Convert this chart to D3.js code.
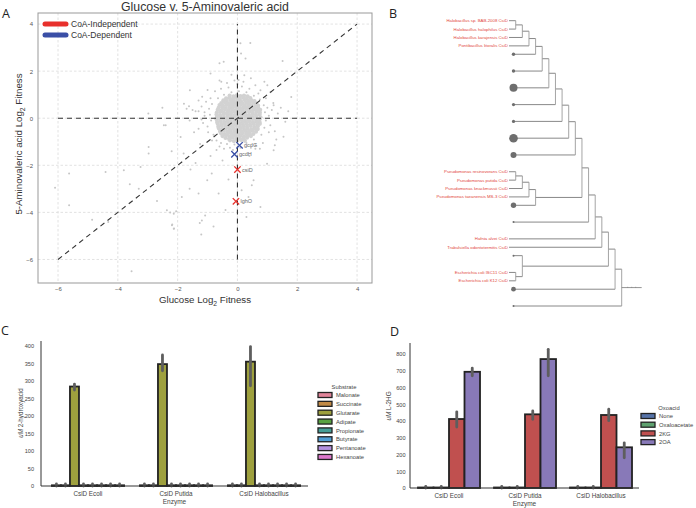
<!DOCTYPE html>
<html><head><meta charset="utf-8">
<script src="https://cdn.jsdelivr.net/npm/d3@7"></script>
<style>body{margin:0;background:#fff}svg{display:block;font-family:"Liberation Sans",Arial,sans-serif}</style>
</head><body><svg id="c" width="696" height="508"></svg>
<script>
// ---------------- DATA ----------------
// Panel A: fitness scatter (x = glucose log2 fitness, y = 5-aminovaleric acid log2 fitness)
const fitnessCore = [
[-0.26,0.96],[-0.13,0.93],[-0.02,0.97],[0.1,0.94],[0.22,0.96],[0.34,0.93],
[-0.38,0.84],[-0.27,0.87],[-0.15,0.83],[-0.03,0.86],[0.08,0.84],[0.2,0.87],[0.31,0.83],[0.43,0.86],
[-0.47,0.76],[-0.36,0.73],[-0.24,0.77],[-0.12,0.74],[0.0,0.76],[0.12,0.73],[0.24,0.77],[0.36,0.74],[0.47,0.76],[0.57,0.73],
[-0.54,0.64],[-0.42,0.67],[-0.31,0.63],[-0.19,0.66],[-0.07,0.64],[0.05,0.67],[0.17,0.63],[0.29,0.66],[0.41,0.64],[0.53,0.67],[0.63,0.63],
[-0.6,0.56],[-0.48,0.53],[-0.36,0.57],[-0.24,0.54],[-0.12,0.56],[0.0,0.53],[0.12,0.57],[0.24,0.54],[0.36,0.56],[0.48,0.53],[0.6,0.57],[0.69,0.54],
[-0.63,0.44],[-0.51,0.47],[-0.39,0.43],[-0.27,0.46],[-0.15,0.44],[-0.03,0.47],[0.09,0.43],[0.21,0.46],[0.33,0.44],[0.45,0.47],[0.57,0.43],[0.69,0.46],
[-0.66,0.36],[-0.54,0.33],[-0.42,0.37],[-0.3,0.34],[-0.18,0.36],[-0.06,0.33],[0.06,0.37],[0.18,0.34],[0.3,0.36],[0.42,0.33],[0.54,0.37],[0.66,0.34],[0.76,0.36],
[-0.69,0.24],[-0.57,0.27],[-0.45,0.23],[-0.33,0.26],[-0.21,0.24],[-0.09,0.27],[0.03,0.23],[0.15,0.26],[0.27,0.24],[0.39,0.27],[0.51,0.23],[0.63,0.26],[0.75,0.24],
[-0.7,0.16],[-0.58,0.13],[-0.46,0.17],[-0.34,0.14],[-0.22,0.16],[-0.1,0.13],[0.02,0.17],[0.14,0.14],[0.26,0.16],[0.38,0.13],[0.5,0.17],[0.62,0.14],[0.74,0.16],
[-0.69,0.04],[-0.57,0.07],[-0.45,0.03],[-0.33,0.06],[-0.21,0.04],[-0.09,0.07],[0.03,0.03],[0.15,0.06],[0.27,0.04],[0.39,0.07],[0.51,0.03],[0.63,0.06],[0.77,0.04],
[-0.7,-0.04],[-0.58,-0.07],[-0.46,-0.03],[-0.34,-0.06],[-0.22,-0.04],[-0.1,-0.07],[0.02,-0.03],[0.14,-0.06],[0.26,-0.04],[0.38,-0.07],[0.5,-0.03],[0.62,-0.06],[0.74,-0.04],
[-0.68,-0.16],[-0.56,-0.13],[-0.44,-0.17],[-0.32,-0.14],[-0.2,-0.16],[-0.08,-0.13],[0.04,-0.17],[0.16,-0.14],[0.28,-0.16],[0.4,-0.13],[0.52,-0.17],[0.64,-0.14],[0.74,-0.16],
[-0.66,-0.24],[-0.54,-0.27],[-0.42,-0.23],[-0.3,-0.26],[-0.18,-0.24],[-0.06,-0.27],[0.06,-0.23],[0.18,-0.26],[0.3,-0.24],[0.42,-0.27],[0.54,-0.23],[0.66,-0.26],[0.75,-0.24],
[-0.64,-0.36],[-0.52,-0.33],[-0.4,-0.37],[-0.28,-0.34],[-0.16,-0.36],[-0.04,-0.33],[0.08,-0.37],[0.2,-0.34],[0.32,-0.36],[0.44,-0.33],[0.56,-0.37],[0.68,-0.34],
[-0.62,-0.44],[-0.5,-0.47],[-0.38,-0.43],[-0.26,-0.46],[-0.14,-0.44],[-0.02,-0.47],[0.1,-0.43],[0.22,-0.46],[0.34,-0.44],[0.46,-0.47],[0.58,-0.43],[0.68,-0.46],
[-0.58,-0.56],[-0.46,-0.53],[-0.34,-0.57],[-0.22,-0.54],[-0.1,-0.56],[0.02,-0.53],[0.14,-0.57],[0.26,-0.54],[0.38,-0.56],[0.5,-0.53],[0.62,-0.57],
[-0.55,-0.64],[-0.43,-0.67],[-0.31,-0.63],[-0.19,-0.66],[-0.07,-0.64],[0.05,-0.67],[0.17,-0.63],[0.29,-0.66],[0.41,-0.64],[0.53,-0.67],
[-0.5,-0.76],[-0.38,-0.73],[-0.26,-0.77],[-0.14,-0.74],[-0.02,-0.76],[0.1,-0.73],[0.22,-0.77],[0.34,-0.74],[0.45,-0.76],
[-0.4,-0.84],[-0.28,-0.87],[-0.16,-0.83],[-0.04,-0.86],[0.08,-0.84],[0.2,-0.87],[0.32,-0.83],
[-0.25,-0.94],[-0.12,-0.97],[0.0,-0.95],[0.13,-0.93],[0.25,-0.96]
];
const fitnessSpread = [
[-0.95,0.4],[-0.88,-0.1],[-0.92,0.15],[-0.85,0.6],[-1.0,-0.35],[-0.8,-0.7],[-0.7,-0.95],[-0.55,-1.05],[-0.35,-1.1],[-0.1,-1.12],
[0.3,-1.05],[0.55,-0.9],[0.8,-0.7],[0.9,-0.4],[0.95,-0.1],[0.92,0.25],[0.88,0.55],[0.75,0.8],[0.55,0.95],[0.3,1.1],
[0.05,1.15],[-0.2,1.1],[-0.45,1.0],[-0.65,0.85],[-1.1,0.1],[-1.15,-0.2],[1.05,0.1],[1.1,-0.3],[1.0,0.45],[-0.3,1.3],
[0.15,1.35],[0.4,1.25],[-0.6,-1.2],[0.6,-1.15],[-1.2,0.5],[1.2,0.65],[-1.3,-0.45],[1.25,-0.55],[0.0,1.45],[-0.45,-1.3],
[0.85,-1.05],[-0.9,0.85],[-0.1,1.6],[0.2,1.55],[-1.4,0.3],[1.35,0.2],[-0.75,1.15],[-0.15,-1.35],[1.6,-0.15],[-1.6,-0.1],
[-1.05,0.7],[-0.98,-0.6],[-1.2,-0.05],[1.15,0.35],[1.05,-0.6],[0.7,1.05],[-0.55,1.25],[0.45,-1.25],[-0.25,-1.25],[0.1,-1.25],
[-0.85,-0.95],[0.95,0.85],[-1.3,0.75],[1.3,-0.9],[-0.35,1.5],[0.6,1.4],[-1.45,-0.6],[1.45,0.45],[-0.7,-1.35],[0.75,-1.3],
[-1.0,1.2],[1.1,1.1],[-1.7,0.4],[1.7,0.3],[-0.2,1.85],[0.45,1.7],[-1.25,-1.1],[1.25,-1.15],[-0.6,1.6],[0.9,1.55]
];
const fitnessOutliers = [
[0.12,2.75],[0.43,3.2],[0.1,3.18],[-0.46,2.4],[-0.6,2.33],[1.51,2.43],[0.27,2.54],[-1.59,1.19],[-2.51,0.45],[-2.4,-0.3],
[-1.79,0.62],[-1.5,0.35],[-1.3,0.3],[-1.1,0.25],[-0.54,1.55],[0.04,1.62],[0.23,1.83],[0.77,1.19],[1.21,0.55],[-6.1,-2.95],
[-5.63,-2.35],[-5.63,-3.7],[-4.41,-2.28],[-4.86,-4.31],[-4.32,-4.41],[-3.54,-6.5],[-2.97,-1.22],[-2.97,-1.5],[-3.8,-2.21],[-3.24,-2.07],
[-2.69,-3.52],[-2.36,-3.91],[-2.13,-4.06],[-2.19,-4.55],[-2.13,-4.7],[-2.25,-4.0],[-2.05,-3.95],[-1.86,-3.35],[-1.3,-3.2],[-1.19,-4.34],
[-1.08,-4.13],[-0.86,-2.35],[-0.63,-3.2],[0.14,-3.06],[0.48,-2.85],[0.37,-3.35],[-2.98,0.2],[-2.46,-0.3],[-1.57,-2.18],[-1.62,0.51],
[-1.18,0.91],[-1.01,-2.64],[1.54,-0.79],[1.21,-1.36],[0.54,-2.64],[0.99,-1.93],[0.77,-3.77],[-2.18,-4.51],[-2.12,-4.69],[-1.26,-4.45],
[-1.21,-4.94],[-1.8,-1.5],[-1.4,-1.9],[-0.9,-1.6],[-0.5,-1.8],[0.4,-1.6],[0.6,-1.3],[-0.3,-2.6],[-1.9,-0.8],[-2.2,-1.4],
[-3.3,-3.0],[-1.6,-3.0],[1.8,0.9],[1.0,1.4],[-0.9,1.9],[-3.6,-2.8],[-0.8,-4.6],[0.3,-4.2],[-0.4,-3.9]
];
const hitNames = ["gcdG","gcdH","csiD","lghO"];
const hitX = [0.07,-0.1,0.0,-0.05];
const hitY = [-1.15,-1.53,-2.18,-3.53];
const hitClass = ["CoA-Dependent","CoA-Dependent","CoA-Independent","CoA-Independent"];
const classNames = ["CoA-Independent","CoA-Dependent"];
const classColors = ["#e8302c","#3a4fa6"];
const ticksA = [-6,-4,-2,0,2,4];
const refLines = [[[-6,-6],[4,4]],[[-6,0],[4,0]],[[0,-6],[0,4]]];

// Panel B: tree (strings = labelled leaves, numbers = unlabelled leaf dot radius)
const haloClade = [[["Halobacillus sp. BAB-2008 CsiD","Halobacillus halophilus CsiD"],"Halobacillus karajensis CsiD"],"Pontibacillus litoralis CsiD"];
const pseudoClade = [[[["Pseudomonas resinovorans CsiD","Pseudomonas putida CsiD"],"Pseudomonas knackmussii CsiD"],"Pseudomonas taeanensis MS-3 CsiD"],2.7];
const ecoliClade = [1.0,["Escherichia coli ISC11 CsiD","Escherichia coli K12 CsiD"]];
const backbone = [1.7,1.7,4.0,1.6,1.6,4.3,3.0,pseudoClade,1.0,"Hafnia alvei CsiD","Trabulsiella odontotermitis CsiD",ecoliClade,2.4,1.0];

// Panel C
const enzymes = ["CsiD Ecoli","CsiD Putida","CsiD Halobacillus"];
const substrates = ["Malonate","Succinate","Glutarate","Adipate","Propionate","Butyrate","Pentanoate","Hexanoate"];
const substrateColors = ["#e08499","#c18a46","#9ea03e","#58a141","#459e97","#519fd6","#b391e0","#dd78cc"];
const cValues = [[2,2,2],[2,2,2],[284,348,355],[2,2,2],[2,2,2],[2,2,2],[2,2,2],[2,2,2]];
const cErrLo = [[0,0,0],[0,0,0],[274,329,286],[0,0,0],[0,0,0],[0,0,0],[0,0,0],[0,0,0]];
const cErrHi = [[6,6,6],[6,6,6],[291,374,398],[6,6,6],[6,6,6],[6,6,6],[6,6,6],[6,6,6]];
const cTicks = [0,50,100,150,200,250,300,350,400];

// Panel D
const oxoacids = ["None","Oxaloacetate","2KG","2OA"];
const oxoColors = ["#5673a8","#5fa16f","#c0504f","#8879b8"];
const dValues = [[3,3,3],[3,3,3],[412,440,436],[694,770,243]];
const dErrLo = [[0,0,0],[0,0,0],[364,410,402],[670,670,180]];
const dErrHi = [[10,10,10],[10,10,10],[455,460,471],[716,828,270]];
const dTicks = [0,100,200,300,400,500,600,700,800];

// ---------------- DRAW ----------------
const svg = d3.select("#c");
svg.append("rect").attr("width",696).attr("height",508).attr("fill","#fff");

function panelLetter(t,x,y){
  svg.append("text").attr("x",x).attr("y",y).attr("font-family","'Open Sans',sans-serif")
    .attr("font-size",12.5).attr("fill","#222").text(t);
}
panelLetter("A",2,18); panelLetter("B",389,18); panelLetter("C",1,335); panelLetter("D",390,336);

// ---- Panel A ----
const xA = d3.scaleLinear().domain([-6.67,4.5]).range([38,372]);
const yA = d3.scaleLinear().domain([-7,4.47]).range([283,13]);
const gA = svg.append("g");
gA.selectAll("line.gx").data(ticksA).join("line").attr("class","gx")
  .attr("x1",d=>xA(d)).attr("x2",d=>xA(d)).attr("y1",yA.range()[1]).attr("y2",yA.range()[0])
  .attr("stroke","#dadada").attr("stroke-width",0.8).attr("stroke-dasharray","2.5,2");
gA.selectAll("line.gy").data(ticksA).join("line").attr("class","gy")
  .attr("y1",d=>yA(d)).attr("y2",d=>yA(d)).attr("x1",xA.range()[0]).attr("x2",xA.range()[1])
  .attr("stroke","#dadada").attr("stroke-width",0.8).attr("stroke-dasharray","2.5,2");

gA.selectAll("circle.ps").data(fitnessSpread.concat(fitnessOutliers)).join("circle").attr("class","ps")
  .attr("cx",d=>xA(d[0])).attr("cy",d=>yA(d[1])).attr("r",1.0).attr("fill","#c6c6c6");
gA.selectAll("circle.pc").data(fitnessCore).join("circle").attr("class","pc")
  .attr("cx",d=>xA(d[0])).attr("cy",d=>yA(d[1])).attr("r",2.1).attr("fill","#d2d2d2");

const lineA = d3.line().x(d=>xA(d[0])).y(d=>yA(d[1]));
gA.selectAll("path.ref").data(refLines).join("path").attr("class","ref")
  .attr("d",lineA).attr("fill","none").attr("stroke","#333").attr("stroke-width",1.1).attr("stroke-dasharray","5,4");

gA.append("rect").attr("x",xA.range()[0]).attr("y",yA.range()[1])
  .attr("width",xA.range()[1]-xA.range()[0]).attr("height",yA.range()[0]-yA.range()[1])
  .attr("fill","none").attr("stroke","#999").attr("stroke-width",1);

const axA = gA.append("g").attr("transform",`translate(0,${yA.range()[0]})`)
  .call(d3.axisBottom(xA).tickValues(ticksA).tickSize(0).tickPadding(4));
const ayA = gA.append("g").attr("transform",`translate(${xA.range()[0]},0)`)
  .call(d3.axisLeft(yA).tickValues(ticksA).tickSize(0).tickPadding(5));
[axA,ayA].forEach(a=>{a.select(".domain").remove();
  a.selectAll("text").attr("font-size",6).attr("fill","#555").attr("font-family","'Liberation Sans',Arial,sans-serif");});

const hits = hitNames.map((n,i)=>({n,x:hitX[i],y:hitY[i],c:classColors[classNames.indexOf(hitClass[i])]}));
const hg = gA.selectAll("g.hit").data(hits).join("g").attr("class","hit")
  .attr("transform",d=>`translate(${xA(d.x)},${yA(d.y)})`);
hg.append("path").attr("d","M-3.2,-3.2L3.2,3.2M-3.2,3.2L3.2,-3.2").attr("stroke",d=>d.c).attr("stroke-width",1.3);
hg.append("text").attr("x",4.5).attr("y",2).attr("font-size",5.5).attr("fill","#666").text(d=>d.n);

const lg = gA.selectAll("g.lg").data(classNames).join("g").attr("class","lg")
  .attr("transform",(d,i)=>`translate(45,${24+i*11})`);
lg.append("line").attr("x1",0).attr("x2",21).attr("stroke",(d,i)=>classColors[i]).attr("stroke-width",5).attr("stroke-linecap","round");
lg.append("text").attr("x",26).attr("y",3).attr("font-size",8.5).attr("fill","#333").text(d=>d);

gA.append("text").attr("x",(xA.range()[0]+xA.range()[1])/2).attr("y",11).attr("text-anchor","middle")
  .attr("font-size",12.3).attr("fill","#333").text("Glucose v. 5-Aminovaleric acid");
const xt = gA.append("text").attr("x",205).attr("y",303).attr("text-anchor","middle").attr("font-size",9.7).attr("fill","#333");
xt.append("tspan").text("Glucose Log");
xt.append("tspan").attr("font-size",6.8).attr("dy",2.5).text("2");
xt.append("tspan").attr("dy",-2.5).text(" Fitness");
const yt = gA.append("text").attr("transform","translate(22,144) rotate(-90)").attr("text-anchor","middle").attr("font-size",9.7).attr("fill","#333");
yt.append("tspan").text("5-Aminovaleric acid Log");
yt.append("tspan").attr("font-size",6.8).attr("dy",2.5).text("2");
yt.append("tspan").attr("dy",-2.5).text(" Fitness");

// ---- Panel B ----
const treeData = backbone.reduce((acc,b)=>[acc,b], haloClade);
const root = d3.hierarchy(treeData, d=>Array.isArray(d)?d:null);
d3.cluster().size([1,1]).separation((a,b)=>typeof b.data==="string"?1:2)(root);
const leaves = root.leaves();
const yB = d3.scaleLinear().domain(d3.extent(leaves,d=>d.x)).range([20.7,306]);
const xB = d3.scaleLinear().domain([0,root.height]).range([509.1,621.7]);
const gB = svg.append("g");
const lineCol = "#7a7a7a";
const startX = d=> d.children ? xB(d.height) : (typeof d.data==="string" ? 509 : 513.5);
gB.selectAll("line.h").data(root.descendants().filter(d=>d.parent)).join("line").attr("class","h")
  .attr("x1",startX).attr("x2",d=>xB(d.parent.height)).attr("y1",d=>yB(d.x)).attr("y2",d=>yB(d.x))
  .attr("stroke",lineCol).attr("stroke-width",0.9);
gB.selectAll("line.v").data(root.descendants().filter(d=>d.children)).join("line").attr("class","v")
  .attr("x1",d=>xB(d.height)).attr("x2",d=>xB(d.height))
  .attr("y1",d=>yB(d.children[0].x)).attr("y2",d=>yB(d.children[d.children.length-1].x))
  .attr("stroke","#9a9a9a").attr("stroke-width",0.9);
gB.append("line").attr("x1",xB(root.height)).attr("x2",xB(root.height)+20).attr("y1",yB(root.x)).attr("y2",yB(root.x))
  .attr("stroke",lineCol).attr("stroke-width",0.8);
[6,10,14].forEach(o=>gB.append("line").attr("x1",xB(root.height)+o).attr("x2",xB(root.height)+o)
  .attr("y1",yB(root.x)-0.8).attr("y2",yB(root.x)+0.2).attr("stroke",lineCol).attr("stroke-width",0.6));
gB.selectAll("circle.dot").data(leaves.filter(d=>typeof d.data==="number")).join("circle").attr("class","dot")
  .attr("cx",513.5).attr("cy",d=>yB(d.x)).attr("r",d=>d.data).attr("fill","#6e6e6e");
gB.selectAll("text.lab").data(leaves.filter(d=>typeof d.data==="string")).join("text").attr("class","lab")
  .attr("x",507.8).attr("y",d=>yB(d.x)+1.5).attr("text-anchor","end").attr("font-size",4.3)
  .attr("fill","#e2453b").text(d=>d.data);

// ---- Bar panels ----
function barPanel(o){
  const g = svg.append("g");
  const y = d3.scaleLinear().domain([0,o.yMax]).range([o.y0,o.y1]);
  const xg = d3.scaleBand().domain(o.groups).range([o.x0,o.x1]).paddingInner(o.pad).paddingOuter(o.pad/2);
  const xs = d3.scaleBand().domain(o.series).range([0,xg.bandwidth()]);
  const recs = [];
  o.series.forEach((s,si)=>o.groups.forEach((gname,gi)=>recs.push({s,si,gname,v:o.values[si][gi],lo:o.lo[si][gi],hi:o.hi[si][gi]})));
  g.selectAll("rect.bar").data(recs).join("rect").attr("class","bar")
    .attr("x",d=>xg(d.gname)+xs(d.s)).attr("width",xs.bandwidth())
    .attr("y",d=>y(d.v)).attr("height",d=>y(0)-y(d.v))
    .attr("fill",d=>o.colors[d.si]).attr("stroke","#222").attr("stroke-width",1.8);
  g.selectAll("line.err").data(recs).join("line").attr("class","err")
    .attr("x1",d=>xg(d.gname)+xs(d.s)+xs.bandwidth()/2).attr("x2",d=>xg(d.gname)+xs(d.s)+xs.bandwidth()/2)
    .attr("y1",d=>y(d.lo)).attr("y2",d=>y(d.hi)).attr("stroke","#5e5e5e").attr("stroke-width",2.8).attr("stroke-linecap","round");
  g.append("line").attr("x1",o.ax).attr("x2",o.ax).attr("y1",o.y0).attr("y2",o.yTop).attr("stroke","#333").attr("stroke-width",1);
  g.append("line").attr("x1",o.ax).attr("x2",o.x1).attr("y1",o.y0).attr("y2",o.y0).attr("stroke","#333").attr("stroke-width",1);
  const ay = g.append("g").attr("transform",`translate(${o.ax},0)`).call(d3.axisLeft(y).tickValues(o.ticks).tickSize(0).tickPadding(o.tp));
  ay.select(".domain").remove();
  ay.selectAll("text").attr("font-size",5.6).attr("fill","#444").attr("font-family","'Liberation Sans',Arial,sans-serif");
  g.selectAll("text.xl").data(o.groups).join("text").attr("class","xl")
    .attr("x",d=>xg(d)+xg.bandwidth()/2).attr("y",o.y0+9.5).attr("text-anchor","middle").attr("font-size",6.3).attr("fill","#444").text(d=>d);
  g.append("text").attr("x",(o.ax+o.x1)/2).attr("y",o.y0+17.5).attr("text-anchor","middle").attr("font-size",6.5).attr("fill","#444").text("Enzyme");
  const yl = g.append("text").attr("transform",`translate(${o.ylx},${o.yly}) rotate(-90)`).attr("text-anchor","middle").attr("font-size",6.3).attr("fill","#444");
  yl.append("tspan").attr("font-style","italic").text("uM");
  yl.append("tspan").text(" "+o.ylabel);
  g.append("text").attr("x",o.lx+o.ltx).attr("y",o.ly-6.5).attr("text-anchor","middle").attr("font-size",5.8).attr("fill","#444").text(o.ltitle);
  const le = g.selectAll("g.le").data(o.series).join("g").attr("class","le").attr("transform",(d,i)=>`translate(${o.lx},${o.ly+i*o.ls})`);
  le.append("rect").attr("x",0).attr("y",-2.5).attr("width",14).attr("height",5).attr("fill",(d,i)=>o.colors[i]).attr("stroke","#222").attr("stroke-width",1.3);
  le.append("text").attr("x",18).attr("y",2.1).attr("font-size",5.8).attr("fill","#444").text(d=>d);
}
barPanel({groups:enzymes,series:substrates,values:cValues,lo:cErrLo,hi:cErrHi,colors:substrateColors,
  yMax:414,y0:486,y1:341,yTop:341,x0:44,x1:308,ax:41,pad:0.18,ticks:cTicks,tp:7,
  ylabel:"2-hydroxyacid",ylx:23,yly:413,ltitle:"Substrate",lx:318,ltx:26,ly:395,ls:8.85});
barPanel({groups:enzymes,series:oxoacids,values:dValues,lo:dErrLo,hi:dErrHi,colors:oxoColors,
  yMax:866,y0:488,y1:343,yTop:343,x0:411,x1:639,ax:410,pad:0.184,ticks:dTicks,tp:4.5,
  ylabel:"L-2HG",ylx:391,yly:406,ltitle:"Oxoacid",lx:641,ltx:28,ly:416,ls:8.7});
</script></body></html>
